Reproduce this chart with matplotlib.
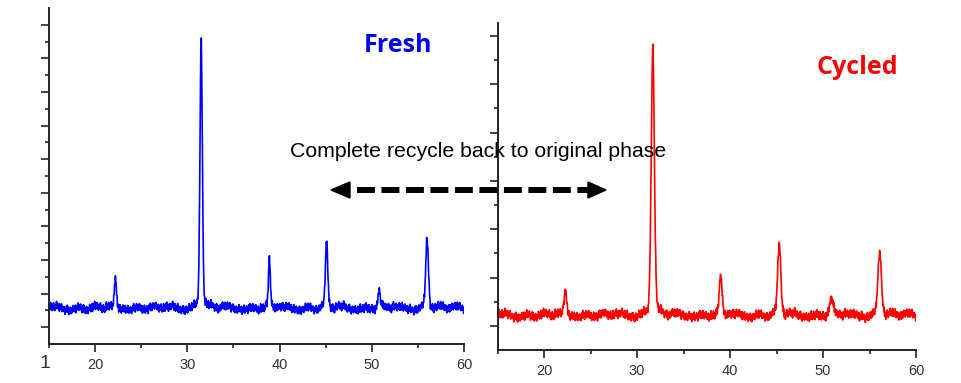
import matplotlib.pyplot as plt
import numpy as np
from matplotlib.patches import Polygon
from matplotlib.lines import Line2D

# peak list (2theta, height above baseline, fwhm)
fresh_pos = [22.2, 31.5, 38.9, 45.1, 50.8, 56.0]
fresh_hgt = [0.87, 8.1, 1.38, 1.92, 0.50, 2.08]
fresh_fwhm = [0.25, 0.30, 0.25, 0.30, 0.30, 0.35]
fresh_base = 1.07

cyc_pos = [22.3, 31.7, 39.0, 45.3, 50.9, 56.1]
cyc_hgt = [0.46, 5.58, 0.77, 1.45, 0.33, 1.33]
cyc_fwhm = [0.35, 0.40, 0.35, 0.40, 0.45, 0.45]
cyc_base = 0.72

# hand read baseline wiggle (two lists of different length, repeated)
wiggle = [0.02, -0.06, 0.08, -0.03, 0.11, -0.09, 0.01, 0.05, -0.12, 0.04,
          -0.02, 0.09, -0.07, 0.03, -0.10, 0.06, 0.00, -0.05, 0.12, -0.04,
          0.07, -0.08, 0.02, -0.01, 0.10, -0.11, 0.04, -0.03, 0.06, -0.06,
          0.13, -0.02, -0.09, 0.05, 0.01, -0.07, 0.08, -0.04, 0.03, -0.13]
drift = [0.04, 0.05, 0.03, 0.06, 0.02, -0.01, -0.04, -0.03, -0.06, -0.05,
         -0.02, 0.01, 0.03, 0.00, -0.03, -0.05, -0.02, 0.02, 0.05, 0.07,
         0.03, 0.00, -0.02]

two_theta = np.arange(15.0, 60.0, 0.045)


def pattern(pos, hgt, fwhm, base, amp):
    y = np.full_like(two_theta, base)
    for p, h, w in zip(pos, hgt, fwhm):
        s = w / 2.355
        g = np.exp(-0.5 * ((two_theta - p) / s) ** 2)
        lz = 1 / (1 + ((two_theta - p) / (w / 2)) ** 2)
        y += h * (0.8 * g + 0.2 * lz)
    y += amp * np.resize(np.array(wiggle), two_theta.size)
    y += amp * np.repeat(np.resize(np.array(drift), two_theta.size // 6 + 1), 6)[:two_theta.size]
    return y


fig = plt.figure(figsize=(9.61, 3.83), dpi=100)
W, H = 961, 383


def fx(px):
    return px / W


def fy(py):
    return 1 - py / H


def style(ax, ymax):
    ax.set_xlim(15, 60)
    ax.set_ylim(0, ymax)
    ax.spines['top'].set_visible(False)
    ax.spines['right'].set_visible(False)
    for s in ['left', 'bottom']:
        ax.spines[s].set_linewidth(1.4)
        ax.spines[s].set_color('#222222')
    ax.set_xticks([20, 30, 40, 50, 60])
    ax.set_xticks([15, 25, 35, 45, 55], minor=True)
    ax.set_yticks(np.arange(0.5, ymax, 1.0))
    ax.set_yticks(np.arange(1.0, ymax, 1.0), minor=True)
    ax.set_yticklabels([])
    ax.tick_params(axis='both', which='major', length=6, width=1.2,
                   color='#222222', labelsize=10.5, labelcolor='#333333', pad=4)
    ax.tick_params(axis='both', which='minor', length=3, width=1.2,
                   color='#222222')
    for lab in ax.get_xticklabels():
        lab.set_family('Liberation Sans')


ax1 = fig.add_axes([fx(49), fy(344), fx(464) - fx(49), fy(8) - fy(344)])
style(ax1, 10.0)
ax1.plot(two_theta, pattern(fresh_pos, fresh_hgt, fresh_fwhm, fresh_base, 1.1),
         color='#0000ff', lw=1.2)

ax2 = fig.add_axes([fx(497.5), fy(350), fx(916) - fx(497.5), fy(23) - fy(350)])
style(ax2, 6.77)
ax2.plot(two_theta, pattern(cyc_pos, cyc_hgt, cyc_fwhm, cyc_base, 0.8),
         color='#ff0000', lw=1.2)

fig.text(fx(398), fy(46), 'Fresh', color='#0000ff', fontsize=18,
         fontweight='bold', family='Open Sans', ha='center', va='center')
fig.text(fx(857), fy(67), 'Cycled', color='#ff0000', fontsize=18,
         fontweight='bold', family='Open Sans', ha='center', va='center')
fig.text(fx(478), fy(151), 'Complete recycle back to original phase',
         color='black', fontsize=15.3, family='Liberation Sans',
         ha='center', va='center')
fig.text(fx(45), fy(364), '1', color='#333333', fontsize=14,
         family='Liberation Sans', ha='center', va='center')

# dashed double arrow
fig.add_artist(Line2D([fx(357), fx(588)], [fy(190), fy(190)],
                      transform=fig.transFigure, color='black', lw=4.3,
                      dashes=(3, 1.1), solid_capstyle='butt',
                      dash_capstyle='butt'))
fig.add_artist(Polygon([[fx(331), fy(190)], [fx(350), fy(182)],
                        [fx(350), fy(198)]], closed=True,
                       transform=fig.transFigure, color='black'))
fig.add_artist(Polygon([[fx(606), fy(190)], [fx(588), fy(182)],
                        [fx(588), fy(198)]], closed=True,
                       transform=fig.transFigure, color='black'))

fig.savefig('out.png', dpi=100)
